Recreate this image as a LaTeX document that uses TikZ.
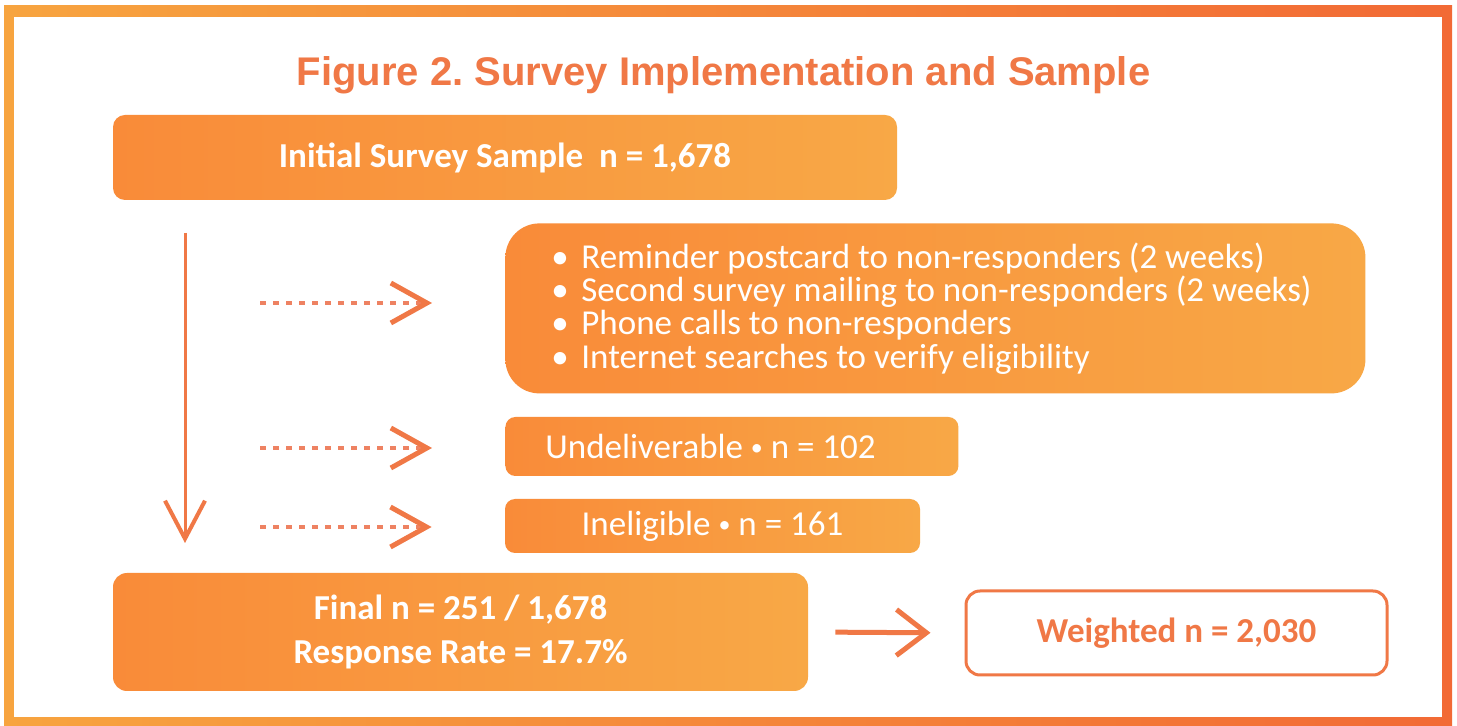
\documentclass[tikz,border=0pt]{standalone}
\usepackage{fontspec}
\setmainfont{Carlito}
\newfontfamily\titlefont{Liberation Sans}
\usepackage{xcolor}
\usetikzlibrary{arrows.meta}
\definecolor{frameL}{HTML}{F7A43F}
\definecolor{frameR}{HTML}{F26A35}
\definecolor{boxL}{HTML}{F98B39}
\definecolor{boxR}{HTML}{F8A846}
\definecolor{accent}{HTML}{F07846}
\definecolor{dots}{HTML}{EE8262}
\newcommand{\middot}{{\fontsize{12}{12}\selectfont\raisebox{1.5pt}{•}}}
\tikzset{
  stepbox/.style={rounded corners=6pt, left color=boxL, right color=boxR, draw=none,
    text=white, inner sep=0pt, font=\bfseries\fontsize{17.5}{22}\selectfont},
  plainbox/.style={stepbox, font=\fontsize{17.5}{21}\selectfont},
  outbox/.style={rounded corners=7pt, draw=accent, line width=1.5pt, fill=white,
    text=accent, inner sep=0pt, font=\bfseries\fontsize{17.5}{21}\selectfont},
  flow/.style={draw=accent, line width=1.5pt, -{Straight Barb[length=19pt,width=20pt,line width=2pt]}},
  side/.style={draw=dots, line width=2pt, dash pattern=on 3pt off 3.5pt,
    -{Straight Barb[length=18pt,width=20pt,line width=2.5pt,color=accent]}},
  result/.style={draw=accent, line width=2.5pt, -{Straight Barb[length=15pt,width=23pt,line width=2.5pt]}}
}

\begin{document}
\frenchspacing
\begin{tikzpicture}[x=0.5pt,y=-0.5pt]
  \useasboundingbox (0,0) rectangle (1457,726);
  % frame
  \fill[left color=frameL, right color=frameR] (4,6) rectangle (1452,726);
  \fill[white] (14,17) rectangle (1442,717);

  \node[anchor=base, text=accent, font=\titlefont\bfseries\fontsize{20}{24}\selectfont] (title)
    at (723.5,86) {Figure 2. Survey Implementation and Sample};

  \node[stepbox, minimum width=392pt, minimum height=42.5pt] (init) at (505,157.5)
    {Initial Survey Sample\ \ n = 1,678};
  \node[plainbox, rounded corners=17pt, anchor=north west, minimum height=85pt,
    text width=384pt, inner xsep=23pt, align=flush left, font=\fontsize{17.5}{16.7}\selectfont] (followup) at (505,223)
    {\makebox[15pt][l]{•}Reminder postcard to non-responders (2 weeks)\\
     \makebox[15pt][l]{•}Second survey mailing to non-responders (2 weeks)\\
     \makebox[15pt][l]{•}Phone calls to non-responders\\
     \makebox[15pt][l]{•}Internet searches to verify eligibility};
  \node[plainbox, rounded corners=5pt, anchor=west, minimum height=29.5pt,
    text width=186.5pt, inner xsep=20pt, align=flush left] (undeliv) at (505,446.5)
    {Undeliverable \middot{} n = 102};
  \node[plainbox, rounded corners=5pt, minimum width=207.5pt, minimum height=27pt] (inelig) at (712.5,526)
    {Ineligible \middot{} n = 161};
  \node[stepbox, rounded corners=7pt, minimum width=347.5pt, minimum height=59pt, align=center] (final) at (460.5,632)
    {Final n = 251 / 1,678\\Response Rate = 17.7\%};
  \node[outbox, minimum width=210.5pt, minimum height=42pt] (weighted) at (1176.5,633)
    {Weighted n = 2,030};

  \coordinate (vtop) at (185,233);
  \coordinate (vbot) at (185,543);
  \coordinate (d1) at (260,303);
  \coordinate (d2) at (260,448);
  \coordinate (d3) at (260,527);

  \draw[flow] (vtop) -- (vbot);
  \draw[side, shorten >=36.5pt] (d1) -- (d1 -| followup.west);
  \draw[side, shorten >=36.5pt] (d2) -- (d2 -| undeliv.west);
  \draw[side, shorten >=36.5pt] (d3) -- (d3 -| inelig.west);
  \draw[result, shorten <=13.5pt, shorten >=17pt] (final.east) -- (weighted.west);
\end{tikzpicture}
\end{document}
